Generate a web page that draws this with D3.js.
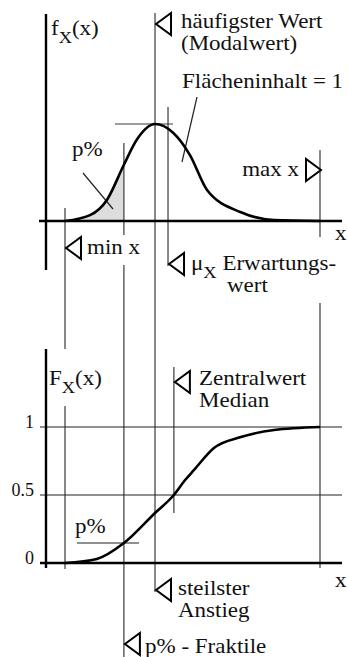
<!DOCTYPE html>
<html>
<head>
<meta charset="utf-8">
<script src="https://cdn.jsdelivr.net/npm/d3@7"></script>
<style>
  body { margin: 0; background: #fff; }
  svg { display: block; }
  text { font-family: 'Liberation Serif', 'Times New Roman', serif; fill: #111; }
</style>
</head>
<body>
<div id="chart"></div>
<script>
'use strict';

// density f_X(x), relative height (peak = 1)
var densityX = [0, 0.98, 1.65, 2.31, 2.82, 3.53, 4.24, 4.9, 5.57, 6.9, 8.2, 10];
var densityY = [0, 0.06, 0.22, 0.58, 0.84, 1, 0.91, 0.68, 0.32, 0.09, 0.01, 0];
// distribution function F_X(x)
var cdfX = [0, 1.25, 2.31, 3.53, 4.27, 4.71, 5.06, 5.84, 6.9, 8.2, 10];
var cdfY = [0, 0.03, 0.147, 0.368, 0.5, 0.61, 0.684, 0.846, 0.926, 0.978, 1];
// characteristic values on the x axis
var minX = 0;
var pFractile = 2.31;
var modeX = 3.53;
var meanX = 4.04;
var medianX = 4.27;
var maxX = 10;
var pPercent = 0.147;
var cdfTicks = [0, 0.5, 1];
var cdfTickLabels = ['0', '0.5', '1'];

var width = 348;
var height = 657;
var fontSize = 20;
var stretch = 1.15; // the original lettering is a slightly widened Times
var lineColor = '#3a3a3a';

var x = d3.scaleLinear().domain([0, 10]).range([65, 320]);
var yTop = d3.scaleLinear().domain([0, 1]).range([221, 124]);
var yBot = d3.scaleLinear().domain([0, 1]).range([563, 427]);

var svg = d3.select('#chart').append('svg').attr('width', width).attr('height', height);

function line(x1, y1, x2, y2, w, color) {
  svg.append('line').attr('x1', x1).attr('y1', y1).attr('x2', x2).attr('y2', y2)
    .attr('stroke', color || lineColor).attr('stroke-width', w || 1.2);
}
function marker(tipX, tipY, dir) {
  var w = 15 * dir;
  svg.append('path')
    .attr('d', 'M' + tipX + ',' + tipY + 'L' + (tipX + w) + ',' + (tipY - 11) + 'L' + (tipX + w) + ',' + (tipY + 11) + 'Z')
    .attr('fill', '#fff').attr('stroke', '#000').attr('stroke-width', 2).attr('stroke-linejoin', 'miter');
}
function textAt(tx, ty, anchor) {
  return svg.append('text')
    .attr('transform', 'translate(' + tx + ',' + ty + ') scale(' + stretch + ',1)')
    .attr('font-size', fontSize).attr('text-anchor', anchor || 'start');
}
function label(tx, ty, str, anchor) {
  return textAt(tx, ty, anchor).text(str);
}
function subLabel(tx, ty, main, sub, rest) {
  var t = textAt(tx, ty);
  t.append('tspan').text(main);
  t.append('tspan').attr('dy', 8).attr('font-size', 16).text(sub);
  t.append('tspan').attr('dy', -8).text(rest);
  return t;
}

var densityPts = densityX.map(function (d, i) { return [d, densityY[i]]; });
var cdfPts = cdfX.map(function (d, i) { return [d, cdfY[i]]; });

// ---------- upper panel: density ----------
var shaded = densityPts.filter(function (d) { return d[0] <= pFractile; });
svg.append('path').datum(shaded)
  .attr('fill', '#dddddd')
  .attr('d', d3.area().x(function (d) { return x(d[0]); }).y0(yTop(0)).y1(function (d) { return yTop(d[1]); }).curve(d3.curveMonotoneX));

// vertical guide lines
line(x(minX), 208, x(minX), 349);
line(x(minX), 406, x(minX), 569);
line(x(pFractile), 143, x(pFractile), 235);
line(x(pFractile), 265, x(pFractile), height);
line(x(modeX), 13, x(modeX), 592);
line(x(meanX), 107, x(meanX), 266);
line(x(medianX), 367, x(medianX), 513);
line(x(maxX), 150, x(maxX), 237);
line(x(maxX), 303, x(maxX), 568);

// peak line and pointers
line(115, yTop(1), 173, yTop(1));
line(197, 97, 182, 162, 1.2, '#222');
line(83, 173, 113, 209, 1.2, '#222');

// axes
line(46, 14, 46, 270, 2.4, '#000');
line(39, yTop(0), 342, yTop(0), 2.4, '#000');

svg.append('path').datum(densityPts)
  .attr('fill', 'none').attr('stroke', '#000').attr('stroke-width', 2.6)
  .attr('d', d3.line().x(function (d) { return x(d[0]); }).y(function (d) { return yTop(d[1]); }).curve(d3.curveMonotoneX));

subLabel(51, 35, 'f', 'X', '(x)');
marker(x(modeX) + 1, 24, 1);
label(181, 28, 'häufigster Wert');
label(181, 50, '(Modalwert)');
label(182, 88, 'Flächeninhalt = 1');
label(72, 156, 'p%');
marker(x(maxX) + 1, 170, -1);
label(299, 176, 'max x', 'end');
label(335, 240, 'x');
marker(x(minX) + 1, 248, 1);
label(87, 254, 'min x');
marker(x(meanX) + 1, 264, 1);
subLabel(191, 270, 'μ', 'X', ' Erwartungs-');
label(227, 292, 'wert');

// ---------- lower panel: distribution function ----------
svg.append('g').selectAll('line.grid').data(cdfTicks).enter().append('line')
  .attr('x1', 40).attr('x2', 342)
  .attr('y1', function (d) { return yBot(d); }).attr('y2', function (d) { return yBot(d); })
  .attr('stroke', function (d) { return d === 0 ? '#000' : '#222'; })
  .attr('stroke-width', function (d) { return d === 0 ? 2.4 : 1.2; });

var yAxis = d3.axisLeft(yBot).tickValues(cdfTicks).tickSize(0).tickPadding(12)
  .tickFormat(function (d, i) { return cdfTickLabels[i]; });
var yAxisG = svg.append('g').attr('transform', 'translate(46,0)').call(yAxis);
yAxisG.select('.domain').remove();
yAxisG.selectAll('text').attr('font-size', 18).attr('font-family', "'Liberation Serif', serif")
  .attr('fill', '#111').attr('dy', '0.05em');

line(46, 349, 46, 568, 2.4, '#000');

// p% level on F
line(77, yBot(pPercent), 139, yBot(pPercent), 1.2, '#222');

svg.append('path').datum(cdfPts)
  .attr('fill', 'none').attr('stroke', '#000').attr('stroke-width', 2.6)
  .attr('d', d3.line().x(function (d) { return x(d[0]); }).y(function (d) { return yBot(d[1]); }).curve(d3.curveMonotoneX));

subLabel(49, 385, 'F', 'X', '(x)');
marker(x(medianX) + 1, 382, 1);
label(199, 385, 'Zentralwert');
label(199, 407, 'Median');
label(75, 533, 'p%');
label(335, 587, 'x');
marker(x(modeX) + 1, 590, 1);
label(178, 595, 'steilster');
label(178, 617, 'Anstieg');
marker(x(pFractile) + 1, 644, 1);
label(145, 653, 'p% - Fraktile');
</script>
</body>
</html>
